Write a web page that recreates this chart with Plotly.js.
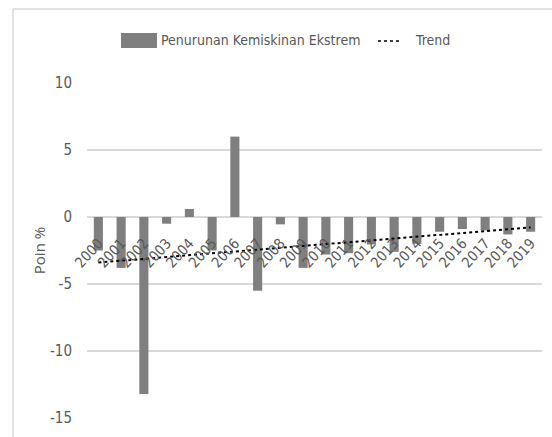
<!DOCTYPE html>
<html>
<head>
<meta charset="utf-8">
<script src="https://cdn.plot.ly/plotly-3.0.1.min.js"></script>
<style>
html,body{margin:0;padding:0;background:#fff;}
#chart{width:552px;height:437px;}
</style>
</head>
<body>
<div id="chart"></div>
<script>
const years = ["2000","2001","2002","2003","2004","2005","2006","2007","2008","2009",
               "2010","2011","2012","2013","2014","2015","2016","2017","2018","2019"];
const penurunan = [-2.5,-3.8,-13.2,-0.5,0.6,-2.5,6.0,-5.5,-0.55,-3.8,
                   -2.8,-2.7,-2.05,-2.6,-2.0,-1.1,-0.9,-1.0,-1.3,-1.1];
const trendYears = ["2000","2019"];
const trendValues = [-3.4,-0.78];
const yTicks = [10,5,0,-5,-10,-15];
const legendLabels = ["Penurunan Kemiskinan Ekstrem","Trend"];

const font = "'DejaVu Sans Condensed','Liberation Sans Narrow',sans-serif";
const grey = '#595959';

// pixel -> paper helpers (plot area: x 87..542, y 83..418)
const L = 87, T = 83, W = 455, H = 335;
const px = v => (v - L) / W;
const py = v => (T + H - v) / H;

const data = [
  {type:'bar', x:years, y:penurunan, name:legendLabels[0],
   marker:{color:'#7f7f7f'}, showlegend:false},
  {type:'scatter', mode:'lines', x:trendYears, y:trendValues, name:legendLabels[1],
   line:{color:'#000000', dash:'dot', width:2}, showlegend:false}
];

const layout = {
  width:552, height:437,
  margin:{l:L, r:552-L-W, t:T, b:437-T-H, autoexpand:false},
  paper_bgcolor:'#ffffff', plot_bgcolor:'#ffffff',
  font:{family:font, color:grey, size:14},
  bargap:0.6,
  showlegend:false,
  xaxis:{type:'category', anchor:'free', position:0.6, tickangle:-48,
         showgrid:false, showline:false, zeroline:false,
         ticks:'', ticklabelstandoff:14,
         tickfont:{family:font, size:14.5, color:grey}, automargin:false},
  yaxis:{range:[-15,10], tickvals:yTicks, ticktext:yTicks.map(String),
         showgrid:true, gridcolor:'#d9d9d9', gridwidth:1.5, zeroline:true,
         zerolinecolor:'#d9d9d9', zerolinewidth:1.5, showline:false, ticks:'',
         ticklabelstandoff:14,
         tickfont:{family:font, size:15, color:grey},
         title:{text:'Poin %', font:{family:"'Open Sans','Noto Sans',sans-serif", size:15, color:grey}, standoff:0},
         automargin:false},
  shapes:[
    {type:'line', xref:'paper', yref:'paper', x0:px(13), x1:px(560), y0:py(9), y1:py(9),
     line:{color:'#d9d9d9', width:1.5}},
    {type:'line', xref:'paper', yref:'paper', x0:px(13), x1:px(13), y0:py(9), y1:py(445),
     line:{color:'#d9d9d9', width:1.5}},
    // legend symbols
    {type:'rect', xref:'paper', yref:'paper', x0:px(121), x1:px(157), y0:py(48), y1:py(33),
     fillcolor:'#7f7f7f', line:{width:0}},
    {type:'line', xref:'paper', yref:'paper', x0:px(378), x1:px(402), y0:py(41), y1:py(41),
     line:{color:'#000000', dash:'dot', width:1.5}}
  ],
  annotations:[
    {xref:'paper', yref:'paper', x:px(159), y:py(40.5), xanchor:'left', yanchor:'middle',
     text:legendLabels[0], showarrow:false, font:{family:font, size:14, color:grey}},
    {xref:'paper', yref:'paper', x:px(413), y:py(40.5), xanchor:'left', yanchor:'middle',
     text:legendLabels[1], showarrow:false, font:{family:font, size:14, color:grey}}
  ]
};

Plotly.newPlot('chart', data, layout, {displayModeBar:false, staticPlot:true});
</script>
</body>
</html>
